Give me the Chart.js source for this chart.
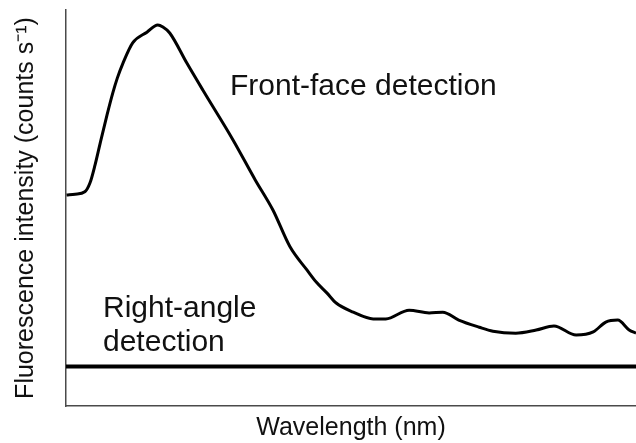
<!DOCTYPE html>
<html>
<head>
<meta charset="utf-8">
<script src="https://cdn.jsdelivr.net/npm/chart.js@4/dist/chart.umd.min.js"></script>
<style>
  html, body { margin: 0; padding: 0; background: #fff; }
  #wrap { width: 636px; height: 443px; }
</style>
</head>
<body>
<div id="wrap"><canvas id="chart"></canvas></div>
<script>
// wavelength in arbitrary units (axis has no ticks), 0 = left edge, 100 = right edge
const wavelength = [0.1, 1.6, 3.3, 4.2, 5.1, 6.0, 7.2, 8.2, 9.0, 10.0, 11.7, 14.2, 16.1, 17.0, 18.2, 21.2, 24.0,
  29.3, 33.2, 36.3, 39.3, 42.3, 43.9, 45.8, 47.4, 50.4, 53.9, 56.1, 60.2, 63.7, 66.1, 68.9, 72.5,
  74.9, 78.9, 82.5, 85.6, 89.5, 92.5, 94.7, 96.8, 98.8, 100];
// front-face detection intensity (arbitrary units)
const frontFace = [53.3, 53.5, 54.1, 56.3, 60.9, 66.4, 73.5, 79.0, 82.8, 86.6, 91.7, 94.4, 96.2, 95.7, 94.2, 86.6, 79.8,
  67.2, 57.1, 49.5, 40.2, 34.3, 31.3, 28.5, 26.0, 23.7, 22.0, 22.0, 24.2, 23.5, 23.7, 21.7, 19.9,
  18.9, 18.4, 19.2, 20.2, 17.9, 18.7, 21.2, 21.7, 19.2, 18.4];
// right-angle detection: flat
const rightAngleX = [0, 100];
const rightAngle = [10, 10];

const FONT = "'Liberation Sans', Arial, Helvetica, sans-serif";

const labelsPlugin = {
  id: 'curveLabels',
  afterDraw(chart) {
    const ctx = chart.ctx;
    ctx.save();
    ctx.fillStyle = '#111';
    ctx.font = '30px ' + FONT;
    ctx.textBaseline = 'alphabetic';
    ctx.textAlign = 'left';
    ctx.fillText('Front-face detection', 230, 95);
    ctx.fillText('Right-angle', 103, 317);
    ctx.fillText('detection', 103, 351);
    ctx.restore();
  }
};

new Chart(document.getElementById('chart'), {
  type: 'line',
  data: {
    datasets: [
      {
        label: 'Front-face detection',
        data: wavelength.map((x, i) => ({ x: x, y: frontFace[i] })),
        borderColor: '#000',
        borderWidth: 3,
        pointRadius: 0,
        cubicInterpolationMode: 'monotone',
        fill: false
      },
      {
        label: 'Right-angle detection',
        data: rightAngleX.map((x, i) => ({ x: x, y: rightAngle[i] })),
        borderColor: '#000',
        borderWidth: 4,
        pointRadius: 0,
        fill: false
      }
    ]
  },
  options: {
    responsive: true,
    maintainAspectRatio: false,
    animation: false,
    layout: { padding: { top: 10, right: 0, bottom: 0, left: 0 } },
    plugins: {
      legend: { display: false },
      tooltip: { enabled: false }
    },
    scales: {
      x: {
        type: 'linear',
        min: 0,
        max: 100,
        grid: { display: false, drawTicks: false },
        border: { display: true, color: '#4a4a4a', width: 1.5 },
        ticks: { display: false },
        title: {
          display: true,
          text: 'Wavelength (nm)',
          color: '#111',
          font: { family: FONT, size: 25 },
          padding: { top: 7, bottom: 0 }
        }
      },
      y: {
        type: 'linear',
        min: 0,
        max: 100,
        grid: { display: false, drawTicks: false },
        border: { display: true, color: '#4a4a4a', width: 1.5 },
        ticks: { display: false },
        title: {
          display: true,
          text: 'Fluorescence intensity (counts s\u207B\u00B9)',
          color: '#111',
          font: { family: FONT, size: 25 },
          padding: { top: 11, bottom: 25 }
        }
      }
    }
  },
  plugins: [labelsPlugin]
});
</script>
</body>
</html>
